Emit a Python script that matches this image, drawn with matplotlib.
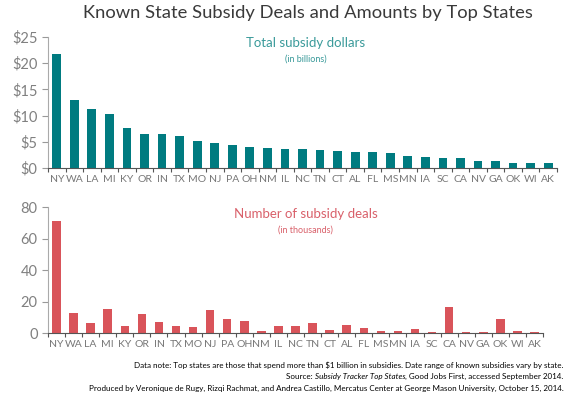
import numpy as np
import matplotlib.pyplot as plt
from matplotlib.ticker import MultipleLocator, FixedLocator

states = ['NY', 'WA', 'LA', 'MI', 'KY', 'OR', 'IN', 'TX', 'MO', 'NJ', 'PA', 'OH', 'NM', 'IL',
          'NC', 'TN', 'CT', 'AL', 'FL', 'MS', 'MN', 'IA', 'SC', 'CA', 'NV', 'GA', 'OK', 'WI', 'AK']
dollars = [21.8, 13.0, 11.2, 10.4, 7.6, 6.4, 6.4, 6.2, 5.1, 4.8, 4.4, 4.1, 3.9, 3.6,
           3.6, 3.4, 3.2, 3.05, 3.05, 2.9, 2.2, 2.1, 1.9, 1.9, 1.3, 1.3, 0.95, 0.95, 0.95]
deals = [71.3, 13.0, 6.4, 15.3, 4.3, 11.9, 7.0, 4.3, 3.6, 14.3, 8.7, 7.4, 1.5, 4.7,
         4.3, 6.4, 1.9, 5.3, 3.2, 1.5, 1.5, 2.6, 0.9, 16.4, 0.9, 0.9, 8.7, 1.5, 0.9]

teal = '#007b80'
red = '#d9545a'
grey = '#777777'
plt.rcParams['font.family'] = ['Lato', 'DejaVu Sans']

fig = plt.figure(figsize=(5.68, 3.94), dpi=100)
ax1 = fig.add_axes([0.0845, 0.5736, 0.8961, 0.3325])
ax2 = fig.add_axes([0.0845, 0.1548, 0.8715, 0.3198])

x = np.arange(len(states))


def style(ax, color, vals, ymax, step, fmt):
    ax.bar(x, vals, width=0.5, color=color)
    ax.set_xlim(-0.5, len(states) - 0.5)
    ax.set_ylim(0, ymax)
    ax.yaxis.set_major_locator(MultipleLocator(step))
    ax.set_yticklabels([fmt.format(int(v)) for v in ax.get_yticks()])
    ax.set_xticks(x)
    ax.set_xticklabels(states)
    ax.xaxis.set_minor_locator(FixedLocator(np.arange(-0.5, len(states), 1)))
    ax.tick_params(axis='x', which='major', length=0, pad=5, labelsize=7.5, colors='#777777')
    ax.tick_params(axis='x', which='minor', length=3, width=0.8, color='#555555')
    ax.tick_params(axis='y', length=4, width=0.8, color='#999999', labelsize=10.5, labelcolor='#808080')
    for s in ['top', 'right']:
        ax.spines[s].set_visible(False)
    ax.spines['left'].set_color('#aaaaaa')
    ax.spines['bottom'].set_color('#555555')


style(ax1, teal, dollars, 25, 5, '${}')
style(ax2, red, deals, 80, 20, '{}')

fig.text(0.542, 0.968, 'Known State Subsidy Deals and Amounts by Top States',
         ha='center', va='center', fontsize=13.2, color='#3a3a3a')
fig.text(0.538, 0.892, 'Total subsidy dollars', ha='center', va='center',
         fontsize=9.5, color='#3a9a9a')
fig.text(0.538, 0.850, '(in billions)', ha='center', va='center',
         fontsize=6.5, color='#3a9a9a')
fig.text(0.538, 0.457, 'Number of subsidy deals', ha='center', va='center',
         fontsize=9.5, color='#d9606a')
fig.text(0.538, 0.415, '(in thousands)', ha='center', va='center',
         fontsize=6.5, color='#d9606a')

fs = 5.8
xr = 0.992
fig.text(xr, 0.074, 'Data note: Top states are those that spend more than $1 billion in subsidies. '
         'Date range of known subsidies vary by state.', ha='right', va='center', fontsize=fs)
fig.text(xr, 0.015, 'Produced by Veronique de Rugy, Rizqi Rachmat, and Andrea Castillo, Mercatus '
         'Center at George Mason University, October 15, 2014.', ha='right', va='center', fontsize=fs)

# source line: mixed italic, placed right to left
renderer = fig.canvas.get_renderer()
t3 = fig.text(xr, 0.044, ', Good Jobs First, accessed September 2014.', ha='right', va='center', fontsize=fs)
bb = t3.get_window_extent(renderer).transformed(fig.transFigure.inverted())
t2 = fig.text(bb.x0, 0.044, 'Subsidy Tracker Top States', ha='right', va='center',
              fontsize=fs, style='italic')
bb = t2.get_window_extent(renderer).transformed(fig.transFigure.inverted())
fig.text(bb.x0, 0.044, 'Source: ', ha='right', va='center', fontsize=fs)

fig.savefig('out.png', dpi=100)
